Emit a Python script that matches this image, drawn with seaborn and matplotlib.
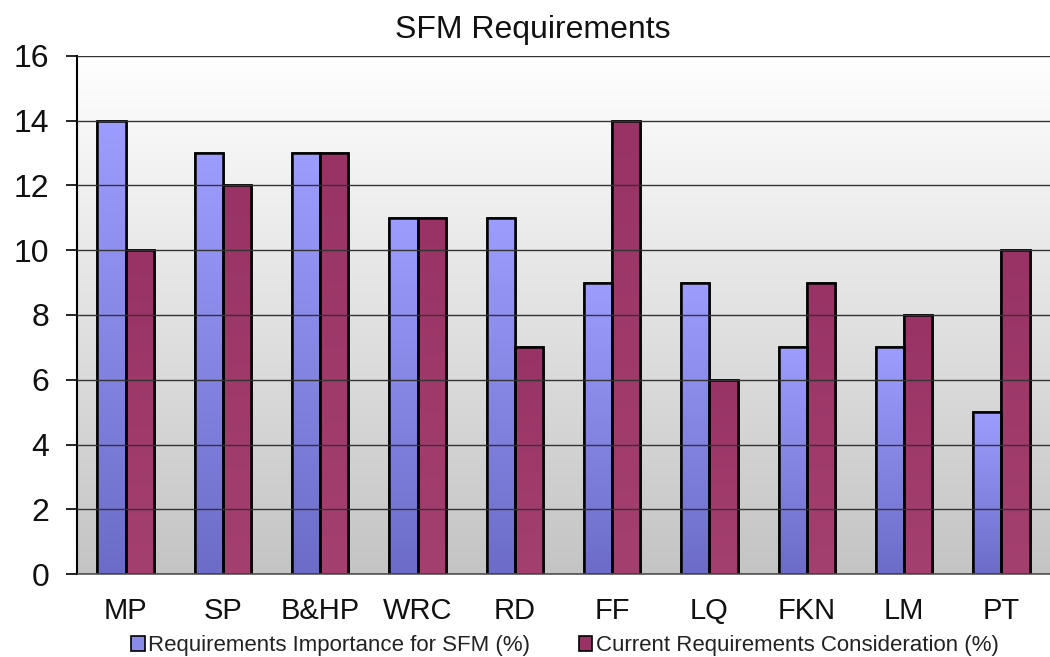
import numpy as np
import pandas as pd
import matplotlib
matplotlib.use("Agg")
import matplotlib.pyplot as plt
import seaborn as sns
from matplotlib.colors import LinearSegmentedColormap
from matplotlib.patches import Rectangle

categories = ["MP", "SP", "B&HP", "WRC", "RD", "FF", "LQ", "FKN", "LM", "PT"]
importance = [14, 13, 13, 11, 11, 9, 9, 7, 7, 5]
consideration = [10, 12, 13, 11, 7, 14, 6, 9, 8, 10]
series_names = ["Requirements Importance for SFM (%)",
                "Current Requirements Consideration (%)"]
title = "SFM Requirements"
yticks = [0, 2, 4, 6, 8, 10, 12, 14, 16]

df = pd.DataFrame({
    "cat": categories * 2,
    "val": importance + consideration,
    "series": [series_names[0]] * len(categories) + [series_names[1]] * len(categories),
})

sns.set_style("white")
plt.rcParams["font.family"] = ["Liberation Sans", "DejaVu Sans"]
plt.rcParams["text.color"] = "#111111"
plt.rcParams["xtick.color"] = "#111111"
plt.rcParams["ytick.color"] = "#111111"

fig = plt.figure(figsize=(10.5, 6.57), dpi=100)
ax = fig.add_axes([0.0733, 0.1263, 0.9267, 0.7885])

blue_top, blue_bot = "#9d9dff", "#6c6cc8"
mar_top, mar_bot = "#993366", "#a4406f"

sns.barplot(data=df, x="cat", y="val", hue="series", order=categories,
            hue_order=series_names, palette=["#8a8ae8", "#993366"],
            width=0.58, edgecolor="black", linewidth=1.8, ax=ax, legend=False)

ax.set_xlim(-0.5, len(categories) - 0.5)
ax.set_ylim(0, 16)

# gradient background
bg = LinearSegmentedColormap.from_list("bg", ["#c4c4c4", "#ffffff"])
grad = np.linspace(0, 1, 256).reshape(-1, 1)
ax.imshow(grad, aspect="auto", cmap=bg, origin="lower",
          extent=[-0.5, len(categories) - 0.5, 0, 16], zorder=0)

# gradient fill on bars
cmap_b = LinearSegmentedColormap.from_list("b", [blue_bot, blue_top])
cmap_m = LinearSegmentedColormap.from_list("m", [mar_bot, mar_top])
n = len(categories)
for i, p in enumerate(list(ax.patches)):
    h = p.get_height()
    if h <= 0:
        continue
    x0 = p.get_x(); w = p.get_width()
    cm = cmap_b if i < n else cmap_m
    im = ax.imshow(grad, aspect="auto", cmap=cm, origin="lower",
                   extent=[x0, x0 + w, 0, h], zorder=p.get_zorder() + 0.1)
    im.set_clip_path(p)
    edge = Rectangle((x0, 0), w, h, fill=False, edgecolor="black",
                     linewidth=1.8, zorder=p.get_zorder() + 0.2)
    ax.add_patch(edge)

ax.set_yticks(yticks)
ax.yaxis.grid(True, color="#333333", linewidth=1.0, zorder=0.5)
ax.set_axisbelow(False)
for gl in ax.get_ygridlines():
    gl.set_zorder(0.5)
ax.tick_params(axis="y", which="both", left=True, length=8, width=1.2,
               labelsize=23, pad=12, color="black")
ax.tick_params(axis="x", bottom=False, labelsize=21, pad=13)
ax.set_xlabel("")
ax.set_ylabel("")
for s in ["top", "right"]:
    ax.spines[s].set_visible(False)
ax.spines["left"].set_color("black")
ax.spines["left"].set_linewidth(1.5)
ax.spines["bottom"].set_color("#555555")
ax.spines["bottom"].set_linewidth(1.2)

fig.text(0.507, 0.955, title, ha="center", va="center", fontsize=23)

handles = [Rectangle((0, 0), 1, 1, facecolor="#8a8ae8", edgecolor="black", linewidth=1.2),
           Rectangle((0, 0), 1, 1, facecolor="#993366", edgecolor="black", linewidth=1.2)]
fig.legend(handles, series_names, loc="center", bbox_to_anchor=(0.538, 0.017),
           ncol=2, frameon=False, fontsize=16, handlelength=0.6, handleheight=0.6,
           handletextpad=0.15, columnspacing=2.2, labelcolor="#222222")

fig.savefig("out.png", dpi=100)
